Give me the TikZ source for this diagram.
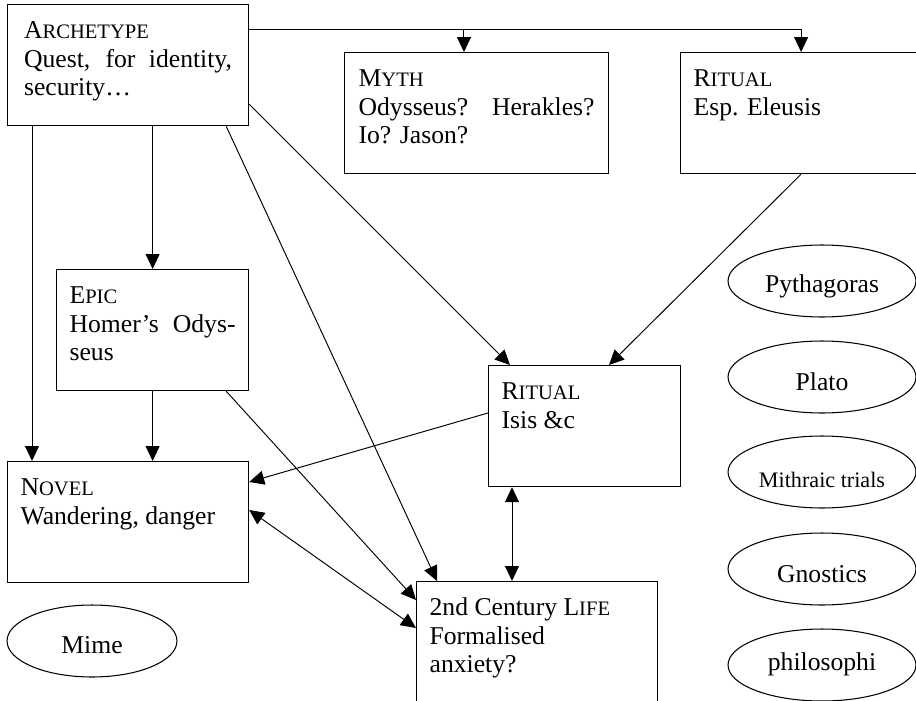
\documentclass[tikz,border=0pt]{standalone}
\usepackage{fontspec}
\setmainfont{Liberation Serif}
\usetikzlibrary{shapes.geometric,arrows.meta}
\newcommand{\scword}[2]{#1{\fontsize{11.7pt}{16.3pt}\selectfont #2}}
\begin{document}
\begin{tikzpicture}[
        x=0.02cm, y=-0.02cm,
        caixa/.style={draw, line width=0.7pt, anchor=north west, align=justify,
            font=\fontsize{14.6pt}{16.3pt}\selectfont,
            inner xsep=0.26cm, inner ysep=0.28cm, text height=0.4cm, text depth=1.46cm,
            text width=4.3cm, minimum width=4.82cm},
        elipse/.style={draw, ellipse, line width=0.6pt, inner sep=0pt,
            minimum width=3.76cm, minimum height=1.44cm,
            text height=0.48cm, text depth=0cm,
            font=\fontsize{14.6pt}{16.3pt}\selectfont},
        seta/.style={line width=0.55pt, -{Triangle[length=0.3cm, width=0.28cm]}},
        setadupla/.style={line width=0.55pt,
            {Triangle[length=0.3cm, width=0.28cm]}-{Triangle[length=0.3cm, width=0.28cm]}},
    ]
    \useasboundingbox (0,0) rectangle (916,700);
    \clip (0,0) rectangle (916,700);

    \node[caixa, text width=4.16cm] (arch) at (7,4) {\scword{A}{RCHETYPE}\\ Quest, for identity,\linebreak security…};
    \node[caixa, text width=4.72cm, minimum width=5.28cm] (myth) at (344,52) {\scword{M}{YTH}\\ Odysseus? Herakles?\linebreak Io? Jason?};
    \node[caixa] (eleusis) at (680,52) {\scword{R}{ITUAL}\\ Esp. Eleusis};
    \node[caixa, text width=3.32cm, minimum width=3.84cm] (epic) at (56,269) {\scword{E}{PIC}\\ Homer’s Odys-\linebreak seus};
    \node[caixa, text width=3.32cm, minimum width=3.84cm] (isis) at (488,365) {\scword{R}{ITUAL}\\ Isis \&c};
    \node[caixa] (novel) at (7,461) {\scword{N}{OVEL}\\ Wandering, danger};
    \node[caixa] (life) at (416,581) {2nd Century \scword{L}{IFE}\\ Formalised\\ anxiety?};

    \node[elipse, text height=0.44cm] (pyth) at (822,281) {Pythagoras};
    \node[elipse, text height=0.52cm] (plato) at (822,377) {Plato};
    \node[elipse, text height=0.6cm, font=\fontsize{12.6pt}{14pt}\selectfont] (mithra) at (822,472) {Mithraic trials};
    \node[elipse, text height=0.52cm] (gnost) at (822,569) {Gnostics};
    \node[elipse, text height=0.2cm] (philo) at (822,665) {philosophi};
    \node[elipse, minimum width=3.4cm] (mime) at (92,641) {Mime};

    % arrows from the archetype
    \coordinate (topline) at ([yshift=-0.5cm]arch.north east);
    \coordinate (mythin) at ([xshift=2.4cm]myth.north west);
    \draw[seta] (topline) -| (eleusis.north);
    \draw[seta] (topline -| mythin) -- (mythin);
    \draw[seta] ([xshift=0.5cm]arch.south west) -- ([xshift=0.5cm]novel.north west);
    \draw[seta] (arch.south -| epic.north) -- (epic.north);
    \draw[seta] ([xshift=-0.46cm]arch.south east) -- ([xshift=0.42cm]life.north west);
    \draw[seta] ([yshift=0.44cm]arch.south east) -- ([xshift=0.44cm]isis.north west);

    \draw[seta] (eleusis.south) -- ([xshift=2.42cm]isis.north west);
    \draw[seta] (epic.south) -- (novel.north -| epic.south);
    \draw[seta] ([xshift=-0.46cm]epic.south east) -- ([yshift=-0.38cm]life.north west);
    \draw[seta] ([yshift=-0.96cm]isis.north west) -- ([yshift=-0.42cm]novel.north east);

    % two-way links
    \coordinate (isislow) at ([xshift=0.48cm]isis.south west);
    \draw[setadupla] ([yshift=-0.98cm]novel.north east) -- ([yshift=-0.94cm]life.north west);
    \draw[setadupla] (isislow) -- (isislow |- life.north);
\end{tikzpicture}
\end{document}
